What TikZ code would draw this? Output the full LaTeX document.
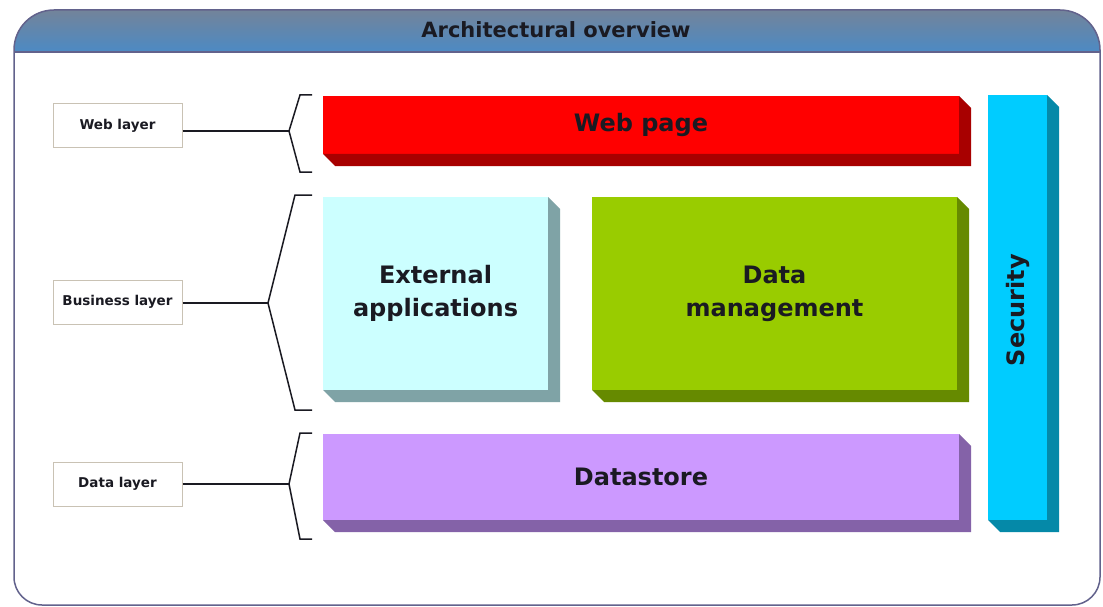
\documentclass[tikz,border=0pt]{standalone}
\usepackage{fontspec}
\setmainfont{DejaVu Sans}
\definecolor{framec}{HTML}{62628C}
\definecolor{headtop}{HTML}{7C8290}
\definecolor{headbot}{HTML}{4C8AC4}
\definecolor{inkc}{HTML}{1A1A22}
\definecolor{tagline}{HTML}{C9C2B4}
\definecolor{redf}{HTML}{FF0000}\definecolor{reds}{HTML}{A80000}
\definecolor{cyanf}{HTML}{CCFFFF}\definecolor{cyans}{HTML}{7FA3A6}
\definecolor{greenf}{HTML}{99CC00}\definecolor{greens}{HTML}{668A00}
\definecolor{purpf}{HTML}{CC99FF}\definecolor{purps}{HTML}{8462A8}
\definecolor{secf}{HTML}{00CCFF}\definecolor{secs}{HTML}{0589A8}
\tikzset{
  slab/.style={inner sep=0pt, outer sep=0pt, text=inkc, align=center,
    font=\bfseries\fontsize{24}{33}\selectfont},
  tag/.style={draw=tagline, line width=1pt, fill=white, inner sep=0pt,
    minimum width=129pt, minimum height=44pt, text=inkc,
    font=\bfseries\fontsize{13.5}{15}\selectfont},
  brace/.style={line width=1.5pt, draw=inkc},
  link/.style={line width=1.5pt, draw=inkc}
}
% extruded face to the right and below a slab node
\newcommand\extrude[2]{%
  \fill[#2] (#1.north east) -- ++(12,12) -- ([shift={(12,12)}]#1.south east)
    -- ([shift={(12,12)}]#1.south west) -- (#1.south west) -- (#1.south east) -- cycle;}
\begin{document}
\begin{tikzpicture}[x=1pt,y=-1pt]
\useasboundingbox (0,0) rectangle (1103,607);
% outer frame with shaded title band
\begin{scope}
  \clip (14,300) [rounded corners=40] -- (14,10) -- (1100,10) [rounded corners=28] -- (1100,605) -- (14,605) -- cycle;
  \fill[white] (0,0) rectangle (1103,607);
  \shade[top color=headtop, bottom color=headbot] (0,0) rectangle (1103,52);
\end{scope}
\draw[framec, line width=1.5pt] (14,52) -- (1100,52);
\draw[framec, line width=1.5pt] (14,300) [rounded corners=40] -- (14,10) -- (1100,10) [rounded corners=28] -- (1100,605) -- (14,605) -- cycle;
\node[text=inkc, font=\bfseries\fontsize{21}{23}\selectfont] (title) at (556,30) {Architectural overview};

% slabs
\node[slab, fill=redf, minimum width=636pt, minimum height=58pt] (web) at (641,125) {Web page};
\extrude{web}{reds}
\node[slab, fill=cyanf, minimum width=225pt, minimum height=193pt] (ext) at (435.5,293.5) {External\\applications};
\extrude{ext}{cyans}
\node[slab, fill=greenf, minimum width=365pt, minimum height=193pt] (dm) at (774.5,293.5) {Data\\management};
\extrude{dm}{greens}
\node[slab, fill=purpf, minimum width=636pt, minimum height=86pt] (ds) at (641,477) {Datastore};
\extrude{ds}{purps}
\node[slab, fill=secf, minimum width=59pt, minimum height=425pt] (sec) at (1017.5,307.5) {};
\extrude{sec}{secs}
\node[slab, rotate=90] (sectext) at (1018,310) {Security};

% layer tags
\node[tag] (tweb) at (117.5,126) {Web layer};
\node[tag] (tbus) at (117.5,302) {Business layer};
\node[tag] (tdat) at (117.5,484) {Data layer};

% brace tips
\coordinate (bweb) at (289,131);
\coordinate (bbus) at (268,303);
\coordinate (bdat) at (289,484);

\draw[link] (tweb.east |- bweb) -- (bweb);
\draw[link] (tbus.east |- bbus) -- (bbus);
\draw[link] (tdat.east |- bdat) -- (bdat);

\draw[brace] (312,95) -- (300,95) -- (bweb) -- (300,172) -- (312,172);
\draw[brace] (312,195) -- (295,195) -- (bbus) -- (295,410) -- (312,410);
\draw[brace] (312,433) -- (300,433) -- (bdat) -- (300,539) -- (312,539);
\end{tikzpicture}
\end{document}
